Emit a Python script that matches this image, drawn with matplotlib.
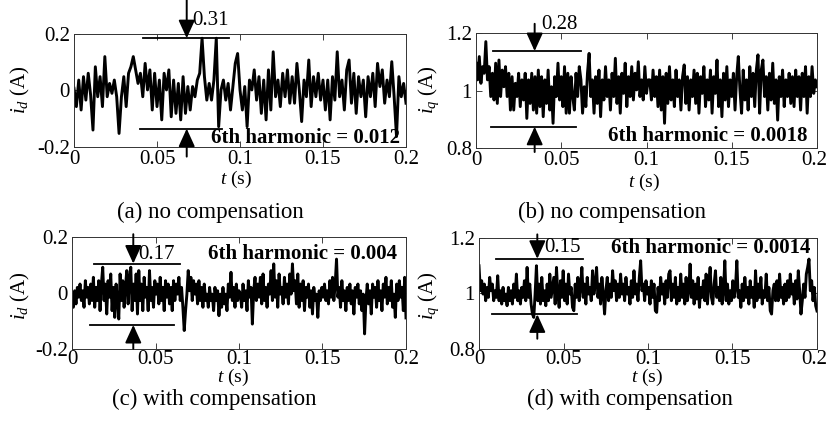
import numpy as np
import matplotlib
matplotlib.use('Agg')
import matplotlib.pyplot as plt
import matplotlib.transforms as mtransforms

plt.rcParams['font.family'] = ['Liberation Serif', 'DejaVu Serif']
plt.rcParams['mathtext.fontset'] = 'custom'
plt.rcParams['mathtext.rm'] = 'Liberation Serif'
plt.rcParams['mathtext.it'] = 'Liberation Serif:italic'
plt.rcParams['mathtext.bf'] = 'Liberation Serif:bold'

# ---------------- data ----------------
id_nocomp = [
    0.008, -0.057, 0.037, -0.069, 0.049, -0.034, 0.061, -0.016, -0.140, 0.084,
    -0.022, 0.049, -0.057, 0.120, -0.022, 0.025, -0.010, 0.037, -0.022, -0.152,
    -0.022, 0.049, -0.057, 0.061, 0.084, 0.120, 0.073, 0.025, 0.061, -0.022,
    0.096, 0.002, 0.073, -0.069, 0.061, -0.057, 0.037, -0.104, 0.061, 0.002,
    0.073, -0.093, 0.037, -0.081, 0.025, -0.104, 0.049, -0.081, 0.014, -0.069,
    0.014, -0.022, 0.037, 0.061, 0.185, 0.049, -0.034, 0.025, -0.034, 0.037,
    0.185, -0.128, 0.002, 0.037, -0.034, 0.025, -0.069, 0.014, 0.096, 0.131,
    0.002, -0.069,
    0.014, -0.128, 0.037, 0.002, 0.073, -0.034, 0.049, -0.081, 0.037, -0.104,
    0.073, -0.069, 0.137, -0.022, 0.037, -0.057, 0.061, -0.022, 0.073, -0.045,
    0.049, -0.045, 0.096, 0.002, -0.110, 0.037, -0.022, 0.108, -0.057, 0.049,
    -0.022, 0.061, -0.034, 0.037, -0.069, 0.037, -0.104, 0.049, -0.034, 0.137,
    -0.022, 0.037, -0.069, 0.073, 0.108, -0.045, 0.061, -0.081, 0.049, -0.022,
    0.037, -0.093, 0.049, -0.022, 0.061, -0.057, 0.096, 0.014, 0.073, -0.045,
    0.037, -0.022, 0.102, -0.022, -0.163, 0.049, -0.022, 0.025, -0.045,
]

iq_nocomp = [
    1.095, 1.037, 1.118, 1.025, 1.083, 1.060, 1.170, 1.037, 1.083, 0.979,
    1.060, 0.967, 1.095, 0.955, 1.106, 0.979, 1.071, 1.013, 1.083, 0.979,
    1.060, 0.932, 1.048, 0.932, 1.025, 0.979, 1.060, 0.944, 1.037, 0.967,
    1.060, 0.903, 1.037, 0.955, 1.060, 0.932, 1.048, 0.921, 1.071, 0.944,
    1.048, 0.909, 1.037, 0.955, 1.071, 0.932, 1.013, 0.886, 1.048, 0.979,
    1.095, 0.967, 1.048, 0.944, 1.083, 0.921, 1.060, 0.921, 1.048, 0.979,
    0.932, 1.060, 0.979, 1.083, 1.037, 0.921, 1.013, 0.944, 1.060, 1.129,
    0.979, 1.037, 0.921, 1.048, 0.955, 1.071, 0.909, 1.037, 0.967, 1.083,
    0.979, 1.037, 0.932, 1.060, 0.979, 1.112, 0.955, 1.048, 0.921, 1.060,
    0.990, 1.095, 0.944, 1.048, 0.979, 1.083, 0.967, 1.060, 1.002, 1.100,
    0.979, 1.037, 0.967, 1.083, 0.990, 1.037,
    1.037, 0.967, 1.071, 0.979, 1.048, 0.944, 1.071, 0.932, 1.048, 0.886,
    1.060, 0.955, 1.083, 0.967, 1.037, 0.944, 1.071, 0.979, 1.037, 0.932,
    1.048, 1.089, 0.955, 1.048, 0.932, 1.037, 0.979, 1.071, 0.955, 1.060,
    0.921, 1.048, 0.990, 1.083, 0.944, 1.037, 0.967, 1.071, 0.921, 1.048,
    0.990, 1.106, 0.944, 1.037, 0.909, 1.060, 0.967, 1.083, 0.944, 1.037,
    0.979, 1.060, 0.932, 1.048, 1.118, 1.002, 0.921, 1.071, 0.967, 1.037,
    0.932, 1.083, 0.979, 1.060, 0.944, 1.071, 1.124, 0.921, 1.071, 1.106,
    0.979, 1.048, 0.932, 1.060, 0.967, 1.095, 0.955, 1.037, 0.897, 1.048,
    0.979, 1.071, 0.944, 1.037, 0.979, 1.060, 0.955, 1.048, 0.944, 1.071,
    0.979, 1.048, 0.932, 1.060, 0.979, 1.083, 0.921, 1.048, 0.979, 1.083,
    0.990, 1.037, 1.013,
]

id_comp = [
    -0.027, -0.051, 0.008, -0.039, 0.020, -0.015, 0.032, -0.027, 0.008, -0.051,
    0.044, -0.015, 0.020, -0.039, 0.032, -0.027, 0.056, -0.051, 0.020, -0.027,
    0.044, -0.063, 0.032, 0.092, -0.027, 0.032, -0.075, 0.044, -0.015, 0.068,
    -0.063, 0.020, -0.087, 0.032, -0.027, -0.093, 0.068, -0.027, 0.044, -0.051,
    0.020, 0.080, -0.039, 0.056, 0.092, -0.063, 0.032, -0.027, 0.068, -0.075,
    0.080, -0.027, 0.032, -0.063, 0.056, -0.015, 0.020, -0.063, 0.080, -0.027,
    0.020, -0.051, 0.044, -0.004, 0.032, -0.039, 0.056, -0.027, 0.020, -0.063,
    0.044, -0.015, 0.032, -0.039, 0.020, -0.063, 0.044, -0.027, 0.032, -0.004,
    0.056, -0.027, 0.020, -0.051, -0.134, -0.063, -0.004, 0.080, 0.008, 0.056,
    -0.027, 0.044, -0.004, 0.032, -0.039, 0.044, -0.027, 0.020, -0.051, 0.032,
    -0.027, -0.004, -0.051, 0.020, -0.027, -0.004, -0.063, 0.020, -0.027, 0.008,
    -0.081, -0.004, -0.051, 0.020, -0.039, -0.004, -0.063, 0.032, -0.015, 0.074,
    -0.027, 0.020, -0.051, 0.032, -0.027, 0.008,
    -0.004, -0.051, 0.032, -0.027, 0.008, -0.063, 0.044, -0.015, 0.020, -0.111,
    0.008, 0.056, -0.027, 0.032, -0.015, 0.056, -0.039, 0.068, -0.027, 0.020,
    -0.051, 0.032, -0.004, 0.080, -0.027, 0.104, -0.015, 0.044, -0.051, 0.068,
    -0.004, 0.020, -0.039, 0.056, -0.015, 0.032, -0.039, 0.068, -0.004, 0.104,
    0.008, 0.044, -0.039, 0.068, -0.051, 0.032, -0.027, 0.044, -0.063, 0.020,
    -0.015, 0.032, -0.051, 0.008, -0.075, 0.020, -0.027, -0.004, -0.087, 0.008,
    -0.027, 0.020, -0.015, 0.032, -0.027, 0.008, -0.039, 0.044, -0.015, 0.056,
    -0.027, 0.032, 0.121, -0.015, 0.020, -0.051, 0.044, -0.027, 0.008, -0.063,
    0.020, -0.027, 0.032, -0.039, 0.008, -0.075, 0.020, -0.015, 0.032, -0.039,
    0.008, -0.063, -0.004, -0.146, -0.027, 0.032, -0.039, 0.008, -0.075, 0.032,
    -0.015, 0.020, -0.051, 0.044, -0.027, 0.008, -0.063, 0.032, -0.015, 0.056,
    -0.039, 0.020, -0.027, 0.044, -0.051, -0.004, -0.087, 0.032, -0.027, 0.044,
    -0.015, 0.020, -0.063, 0.056, -0.089,
]

iq_comp = [
    1.100, 1.010, 1.046, 0.998, 1.034, 0.974, 1.022, 0.986, 1.058, 1.010,
    1.034, 0.974, 1.010, 0.986, 1.064, 0.974, 1.010, 0.962, 1.022, 0.974,
    0.998, 0.956, 1.022, 0.974, 1.010, 0.962, 1.034, 0.986, 1.070, 0.974,
    1.010, 0.962, 1.022, 0.986, 1.046, 0.974, 1.094, 0.986, 1.034, 0.962,
    0.926, 0.914, 0.998, 1.100, 0.974, 1.034, 0.962, 1.058, 0.974, 1.010,
    0.956, 1.034, 0.974, 1.070, 0.986, 1.022, 1.058, 0.962, 1.094, 0.998,
    0.950, 1.046, 0.986, 1.082, 0.974, 1.034, 0.962, 1.070, 0.998, 1.022,
    0.950, 0.938, 1.034, 0.986, 1.058, 0.974, 1.022, 1.094, 0.986, 1.034,
    0.962, 1.058, 0.998, 1.022, 0.974, 1.082, 0.998, 1.034, 1.094, 0.986,
    1.034, 0.962, 1.058, 0.998, 0.926, 1.010, 1.058, 0.974, 1.034, 0.986,
    1.082, 1.010, 1.046, 0.974, 1.034, 0.986, 1.070, 0.998, 1.034, 0.974,
    1.058, 0.998, 1.022, 0.962, 1.046, 0.986, 1.082, 0.998, 1.034, 0.974,
    1.058, 1.118, 1.010, 1.034, 0.974, 1.046, 0.998,
    1.022, 0.962, 1.046, 0.986, 1.034, 0.938, 0.932, 1.022, 0.974, 1.058,
    0.998, 1.034, 0.962, 1.046, 0.986, 1.070, 1.082, 0.974, 1.034, 0.986,
    1.058, 0.962, 1.022, 0.974, 1.070, 0.986, 1.034, 0.962, 1.058, 0.974,
    1.010, 1.106, 0.986, 1.046, 0.962, 1.034, 0.980, 1.058, 0.950, 1.022,
    0.986, 1.046, 0.974, 1.070, 0.962, 1.034, 1.094, 0.986, 0.962, 1.034,
    1.082, 0.986, 1.022, 0.974, 1.058, 0.962, 1.010, 1.118, 0.974, 1.034,
    0.962, 1.010, 0.974, 1.046, 0.986, 1.022, 1.118, 0.986, 1.010, 0.950,
    1.034, 0.974, 1.058, 0.986, 1.022, 0.962, 1.046, 0.986, 1.022, 0.950,
    1.082, 0.974, 1.034, 0.986, 1.058, 0.962, 1.010, 0.986, 1.070, 0.974,
    1.022, 0.938, 0.926, 1.010, 1.034, 0.974, 1.046, 0.974, 1.070, 0.986,
    1.022, 0.962, 1.034, 0.974, 1.046, 0.986, 1.070, 0.998, 1.034, 0.962,
    1.046, 0.980, 1.082, 1.010, 0.926, 0.974, 1.034, 0.986, 1.070, 1.094,
    1.124, 1.010, 1.046, 0.974, 1.022, 0.956, 0.937,
]

t_end = 0.2
x_ticks = [0, 0.05, 0.1, 0.15, 0.2]
x_tick_labels = ['0', '0.05', '0.1', '0.15', '0.2']
yd_ticks = [-0.2, 0, 0.2]
yd_tick_labels = ['-0.2', '0', '0.2']
yq_ticks = [0.8, 1.0, 1.2]
yq_tick_labels = ['0.8', '1', '1.2']

pp_labels = ['0.31', '0.28', '0.17', '0.15']
harm_labels = ['6th harmonic = 0.012', '6th harmonic = 0.0018',
               '6th harmonic = 0.004', '6th harmonic = 0.0014']
captions = ['(a) no compensation', '(b) no compensation',
            '(c) with compensation', '(d) with compensation']
ylabels = [r'$i_d$ (A)', r'$i_q$ (A)', r'$i_d$ (A)', r'$i_q$ (A)']

# peak-to-peak marker levels (upper, lower)
pp_upper = [0.185, 1.137, 0.105, 1.125]
pp_lower = [-0.135, 0.874, -0.114, 0.925]

# ---------------- layout (pixels) ----------------
W, H = 828, 423
fig = plt.figure(figsize=(W / 100, H / 100), dpi=100)


def box(x0, y0, x1, y1):
    return [x0 / W, 1 - y1 / H, (x1 - x0) / W, (y1 - y0) / H]


def ftext(x, y, s, **kw):
    fig.text(x / W, 1 - y / H, s, **kw)


panels = [
    dict(data=id_nocomp, box=(74, 34, 406, 147), ylim=(-0.2, 0.2), yt=yd_ticks, ytl=yd_tick_labels,
         up_x=(0.0414, 0.0932), lo_x=(0.0398, 0.089), arr_x=0.0679, top_tail=0.32, bot_tail=-0.234,
         pp_pos=(0.0715, 0.247), harm_pos=(0.1964, -0.169), xpad=2,
         ylab=(20, 90), xlab=(236, 179), cap=(210, 212), shift_last=False),
    dict(data=iq_nocomp, box=(476, 33, 817, 148), ylim=(0.8, 1.2), yt=yq_ticks, ytl=yq_tick_labels,
         up_x=(0.0101, 0.0614), lo_x=(0.009, 0.0588), arr_x=0.0344, top_tail=1.232, bot_tail=0.786,
         pp_pos=(0.0381, 1.228), harm_pos=(0.1943, 0.842), xpad=2,
         ylab=(429, 90), xlab=(644, 182), cap=(612, 212), shift_last=True),
    dict(data=id_comp, box=(72, 237, 406, 349), ylim=(-0.2, 0.2), yt=yd_ticks, ytl=yd_tick_labels,
         up_x=(0.0132, 0.0647), lo_x=(0.0108, 0.0613), arr_x=0.0367, top_tail=0.21, bot_tail=-0.199,
         pp_pos=(0.0397, 0.138), harm_pos=(0.1944, 0.138), xpad=1,
         ylab=(20, 296), xlab=(233, 377), cap=(214, 399), shift_last=False),
    dict(data=iq_comp, box=(479, 238, 817, 349), ylim=(0.8, 1.2), yt=yq_ticks, ytl=yq_tick_labels,
         up_x=(0.0099, 0.0617), lo_x=(0.0075, 0.0578), arr_x=0.0345, top_tail=1.213, bot_tail=0.837,
         pp_pos=(0.0385, 1.165), harm_pos=(0.1963, 1.165), xpad=1,
         ylab=(429, 296), xlab=(647, 377), cap=(630, 399), shift_last=True),
]

for k, p in enumerate(panels):
    ax = fig.add_axes(box(*p['box']))
    y = np.asarray(p['data'])
    t = np.linspace(0, t_end, len(y))
    ax.plot(t, y, color='k', lw=2.1, solid_joinstyle='round')
    ax.set_xlim(0, t_end)
    ax.set_ylim(*p['ylim'])
    ax.set_xticks(x_ticks)
    ax.set_xticklabels(x_tick_labels)
    ax.set_yticks(p['yt'])
    ax.set_yticklabels(p['ytl'])
    ax.tick_params(direction='in', top=True, right=True, length=4, width=0.6,
                   labelsize=15, pad=3, colors='#222222', labelcolor='k')
    ax.tick_params(axis='x', pad=p['xpad'])
    if p['shift_last']:
        lab = ax.get_xticklabels()[-1]
        lab.set_transform(lab.get_transform() +
                          mtransforms.ScaledTranslation(-3 / 100, 0, fig.dpi_scale_trans))
    for s in ax.spines.values():
        s.set_linewidth(0.7)
        s.set_color('#333333')

    # peak-to-peak markers
    ax.plot(p['up_x'], [pp_upper[k]] * 2, color='k', lw=1.3, clip_on=False)
    ax.plot(p['lo_x'], [pp_lower[k]] * 2, color='k', lw=1.3, clip_on=False)
    aprops = dict(arrowstyle='-|>,head_length=0.55,head_width=0.25', color='k',
                  lw=1.4, mutation_scale=20, shrinkA=0, shrinkB=0)
    ax.annotate('', xy=(p['arr_x'], pp_upper[k]), xytext=(p['arr_x'], p['top_tail']),
                arrowprops=aprops, annotation_clip=False)
    ax.annotate('', xy=(p['arr_x'], pp_lower[k]), xytext=(p['arr_x'], p['bot_tail']),
                arrowprops=aprops, annotation_clip=False)
    ax.text(p['pp_pos'][0], p['pp_pos'][1], pp_labels[k], fontsize=15,
            ha='left', va='center', clip_on=False)
    ax.text(p['harm_pos'][0], p['harm_pos'][1], harm_labels[k], fontsize=15,
            fontweight='bold', ha='right', va='center', clip_on=False)

    ftext(*p['ylab'], ylabels[k], fontsize=15, rotation=90, ha='center', va='center')
    ftext(*p['xlab'], r'$t$ (s)', fontsize=14, ha='center', va='center')
    ftext(*p['cap'], captions[k], fontsize=16.5, ha='center', va='center')

fig.savefig('out.png', dpi=100)
